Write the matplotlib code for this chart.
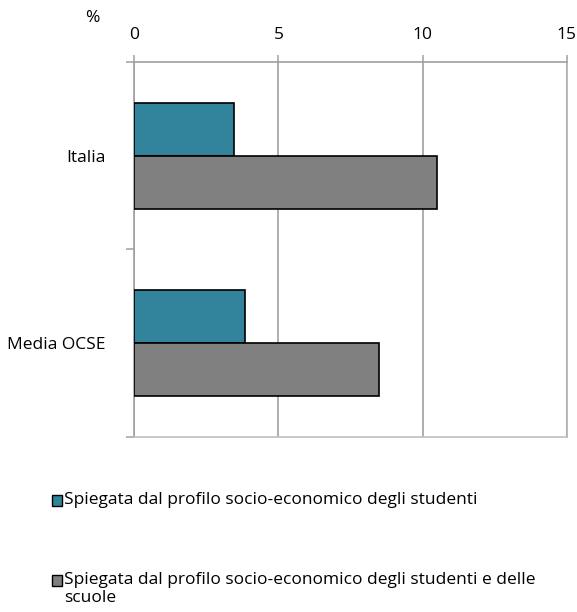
import matplotlib
matplotlib.use("Agg")
import matplotlib.pyplot as plt
from matplotlib.patches import Rectangle
import numpy as np

categories = ["Italia", "Media OCSE"]
series_names = [
    "Spiegata dal profilo socio-economico degli studenti",
    "Spiegata dal profilo socio-economico degli studenti e delle\nscuole",
]
studenti = [3.45, 3.85]
studenti_scuole = [10.5, 8.5]
xticks = [0, 5, 10, 15]
colors = ["#31849B", "#808080"]

plt.rcParams['font.family'] = ['Open Sans', 'DejaVu Sans']

W, H = 577, 612
fig = plt.figure(figsize=(W / 100, H / 100), dpi=100)
ax = fig.add_axes([134.3 / W, 1 - 436.7 / H, (566.7 - 134.3) / W, (436.7 - 62) / H])

y = np.arange(len(categories))
h = 0.283
ax.barh(y - h / 2, studenti, height=h, color=colors[0], edgecolor="black", linewidth=1.2, zorder=3)
ax.barh(y + h / 2, studenti_scuole, height=h, color=colors[1], edgecolor="black", linewidth=1.2, zorder=3)

ax.set_xlim(0, 15)
ax.set_ylim(len(categories) - 0.5, -0.5)
ax.set_xticks(xticks)
ax.set_xticklabels([str(t) for t in xticks], fontsize=12.5)
ax.xaxis.tick_top()
ax.tick_params(axis="x", direction="out", length=5, width=1.1, color="#A0A0A0", pad=9)
ax.grid(axis="x", color="#A0A0A0", linewidth=1.2, zorder=0)

ax.set_yticks(np.arange(-0.5, len(categories)), minor=False)
ax.set_yticklabels([])
ax.set_yticks(y, minor=True)
ax.set_yticklabels(categories, minor=True, fontsize=12.5)
ax.tick_params(axis="y", which="major", direction="out", length=6, width=1.1, color="#A0A0A0")
ax.tick_params(axis="y", which="minor", length=0, pad=21)

for side in ["top", "left", "bottom", "right"]:
    ax.spines[side].set_color("#A0A0A0")
    ax.spines[side].set_linewidth(1.2)
ax.spines["bottom"].set_color("#BFBFBF")
ax.spines["right"].set_color("#B0B0B0")

fig.text(92.5 / W, 1 - 18.5 / H, "%", ha="center", va="center", fontsize=12.5)

# legend (manual)
leg_y = [500, 580]
for name, col, yy in zip(series_names, colors, leg_y):
    fig.patches.append(Rectangle((52 / W, 1 - (yy + 6) / H), 10 / W, 11 / H,
                                 transform=fig.transFigure, facecolor=col,
                                 edgecolor="black", linewidth=1.0))
    for i, ln in enumerate(name.split("\n")):
        fig.text(64 / W, 1 - (yy + 18 * i) / H, ln, ha="left", va="center", fontsize=12.5)

fig.savefig("out.png", dpi=100)
